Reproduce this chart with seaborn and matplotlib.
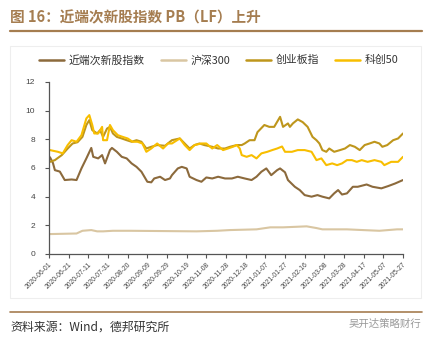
import numpy as np
import pandas as pd
import matplotlib
matplotlib.use("Agg")
import matplotlib.pyplot as plt
import seaborn as sns
from matplotlib.patches import Rectangle
from matplotlib.lines import Line2D

# ---------------- data (days since 2020-06-01, value) ----------------
start_date = "2020-06-01"
end_date = "2021-05-27"

series_names = ["近端次新股指数", "沪深300", "创业板指", "科创50"]

cxg_days = [1, 4, 6, 11, 16, 23, 28, 33, 38, 43, 45, 50, 54, 57, 62, 64, 69, 74, 79, 84,
            89, 94, 97, 100, 104, 107, 113, 118, 123, 125, 131, 135, 140, 143, 150, 155,
            160, 166, 172, 179, 186, 192, 199, 206, 211, 216, 221, 226, 232, 235, 240,
            243, 250, 255, 260, 267, 273, 278, 285, 290, 294, 298, 303, 309, 314, 323,
            329, 338, 345, 352, 360]
cxg_vals = [6.75, 6.35, 5.85, 5.75, 5.16, 5.2, 5.16, 5.97, 6.67, 7.4, 6.78, 6.67, 6.9,
            6.32, 7.25, 7.4, 7.13, 6.78, 6.67, 6.32, 6.08, 5.74, 5.39, 5.04, 5.0, 5.27,
            5.39, 5.16, 5.27, 5.5, 5.97, 6.08, 5.97, 5.39, 5.16, 5.04, 5.34, 5.27, 5.39,
            5.27, 5.27, 5.39, 5.27, 5.16, 5.39, 5.74, 5.97, 5.5, 5.85, 5.97, 5.7, 5.16,
            4.69, 4.46, 4.11, 4.0, 4.11, 4.0, 3.88, 4.23, 4.46, 4.15, 4.23, 4.69, 4.69,
            4.85, 4.69, 4.58, 4.74, 4.92, 5.16]

hs300_days = [1, 28, 34, 43, 49, 55, 65, 82, 116, 150, 171, 184, 211, 225, 238, 252,
              262, 272, 278, 303, 319, 336, 354, 360]
hs300_vals = [1.39, 1.43, 1.62, 1.67, 1.58, 1.58, 1.62, 1.62, 1.6, 1.58, 1.62, 1.67,
              1.72, 1.86, 1.86, 1.9, 1.93, 1.81, 1.72, 1.72, 1.67, 1.62, 1.72, 1.72]

cyb_days = [1, 6, 13, 19, 24, 29, 34, 38, 41, 44, 49, 52, 55, 59, 62, 65, 69, 74, 79,
            84, 89, 94, 99, 104, 110, 118, 125, 133, 138, 143, 148, 153, 158, 166, 172,
            179, 184, 191, 196, 199, 204, 209, 212, 219, 224, 229, 235, 238, 243, 245,
            248, 253, 258, 263, 268, 272, 275, 278, 282, 285, 290, 296, 301, 306, 311,
            316, 321, 326, 331, 336, 339, 344, 350, 355, 360]
cyb_vals = [6.43, 6.55, 6.9, 7.36, 7.71, 7.8, 8.17, 9.0, 9.34, 8.64, 8.41, 8.64, 8.17,
            8.75, 8.87, 8.41, 8.17, 8.06, 7.94, 7.83, 7.94, 7.83, 7.36, 7.48, 7.6, 7.55,
            7.94, 8.06, 7.71, 7.36, 7.6, 7.71, 7.6, 7.48, 7.36, 7.36, 7.48, 7.6, 7.6,
            7.71, 7.94, 7.94, 8.5, 9.0, 8.87, 8.87, 9.57, 8.87, 9.11, 8.87, 9.11, 9.39,
            9.2, 8.87, 8.17, 7.94, 7.71, 7.25, 7.13, 7.36, 7.13, 7.25, 7.36, 7.6, 7.48,
            7.25, 7.6, 7.71, 7.83, 7.71, 7.48, 7.6, 7.94, 8.06, 8.41]

kc50_days = [1, 9, 14, 19, 23, 28, 33, 38, 41, 44, 46, 50, 54, 55, 59, 62, 65, 70, 75,
             80, 85, 90, 95, 99, 104, 110, 116, 121, 125, 133, 138, 143, 148, 155, 160,
             166, 171, 177, 182, 187, 191, 194, 196, 201, 206, 211, 216, 222, 227, 232,
             237, 240, 247, 253, 260, 267, 272, 277, 282, 288, 293, 298, 303, 308, 313,
             318, 324, 331, 338, 341, 348, 355, 360]
kc50_vals = [7.25, 7.13, 7.02, 7.6, 7.94, 7.83, 8.29, 9.46, 9.69, 9.0, 8.41, 8.41, 8.87,
             7.94, 7.94, 9.0, 8.64, 8.29, 8.17, 8.06, 7.83, 7.83, 7.71, 7.13, 7.36, 7.71,
             7.36, 7.71, 7.71, 8.06, 7.6, 7.25, 7.6, 7.71, 7.71, 7.36, 7.6, 7.25, 7.36,
             7.48, 7.6, 7.36, 6.9, 6.78, 6.9, 6.67, 7.02, 7.13, 7.25, 7.36, 7.5, 7.13,
             7.13, 7.25, 7.25, 7.13, 6.55, 6.67, 6.2, 6.32, 6.2, 6.32, 6.55, 6.55, 6.43,
             6.55, 6.43, 6.55, 6.43, 6.2, 6.43, 6.43, 6.78]

y_ticks = [0, 2, 4, 6, 8, 10, 12]

title_text = "图 16：近端次新股指数 PB（LF）上升"
source_text = "资料来源：Wind，德邦研究所"
watermark_text = "吴开达策略财行"

# ---------------- build long table ----------------
base = pd.Timestamp(start_date)
frames = []
for name, days, vals in [(series_names[0], cxg_days, cxg_vals),
                         (series_names[1], hs300_days, hs300_vals),
                         (series_names[2], cyb_days, cyb_vals),
                         (series_names[3], kc50_days, kc50_vals)]:
    frames.append(pd.DataFrame({"date": base + pd.to_timedelta(days, unit="D"),
                                "value": vals, "series": name}))
df = pd.concat(frames, ignore_index=True)

colors = {series_names[0]: "#8c6a3c", series_names[1]: "#d9c6a2",
          series_names[2]: "#be961c", series_names[3]: "#f8be00"}
brown = "#a57d50"

# ---------------- figure ----------------
sns.set_style("white")
plt.rcParams["font.family"] = ["Noto Sans CJK SC", "DejaVu Sans"]

fig = plt.figure(figsize=(4.33, 3.40), dpi=100)
ax = fig.add_axes([49 / 433, 1 - 254 / 340, (403 - 49) / 433, (254 - 82) / 340])

sns.lineplot(data=df, x="date", y="value", hue="series", hue_order=series_names,
             palette=colors, linewidth=1.5, ax=ax, legend=False, estimator=None,
             sort=True)

ax.set_xlim(pd.Timestamp(start_date), pd.Timestamp(end_date))
ax.set_ylim(0, 12)
ax.set_xlabel("")
ax.set_ylabel("")

xt = pd.date_range(start_date, end_date, freq="20D")
ax.set_xticks(xt)
ax.set_xticklabels([d.strftime("%Y-%m-%d") for d in xt], rotation=45, ha="right",
                   rotation_mode="anchor", fontsize=4.9, color="#444444",
                   family=["Liberation Sans", "DejaVu Sans"])
ax.set_yticks(y_ticks)
ax.set_yticklabels([str(v) for v in y_ticks], fontsize=6, color="#444444",
                   family=["Liberation Sans", "DejaVu Sans"])
ax.tick_params(axis="both", which="both", direction="out", length=3, width=0.8,
               color="#555555", pad=2, left=True, bottom=True)
ax.tick_params(axis="y", pad=7)

for s in ["top", "right"]:
    ax.spines[s].set_visible(False)
for s in ["left", "bottom"]:
    ax.spines[s].set_color("#555555")
    ax.spines[s].set_linewidth(0.9)

# legend
handles = [Line2D([0], [0], color=colors[n], lw=1.8) for n in series_names]
fig.legend(handles, series_names, loc="center", bbox_to_anchor=(0.505, 1 - 60 / 340),
           ncol=4, frameon=False, fontsize=7.8, handlelength=2.3, handletextpad=0.4,
           columnspacing=1.5, labelcolor="#333333")

# faint chart box
fig.patches.append(Rectangle((10 / 433, 1 - 298 / 340), 411 / 433, 252 / 340,
                             transform=fig.transFigure, fill=False,
                             edgecolor="#eeeeee", linewidth=0.8))

# title and rules
fig.text(10 / 433, 1 - 17 / 340, title_text, fontsize=10.5, fontweight="bold",
         color=brown, va="center", ha="left")
fig.add_artist(Line2D([10 / 433, 422 / 433], [1 - 31 / 340, 1 - 31 / 340],
                      transform=fig.transFigure, color=brown, lw=1.6))
fig.add_artist(Line2D([10 / 433, 422 / 433], [1 - 312 / 340, 1 - 312 / 340],
                      transform=fig.transFigure, color=brown, lw=1.2))
fig.text(10 / 433, 1 - 327 / 340, source_text, fontsize=8.6, color="#333333",
         va="center", ha="left")
fig.text(421 / 433, 1 - 324 / 340, watermark_text, fontsize=7.5, color="#9a9a9a",
         va="center", ha="right")

fig.savefig("out.png", dpi=100)
